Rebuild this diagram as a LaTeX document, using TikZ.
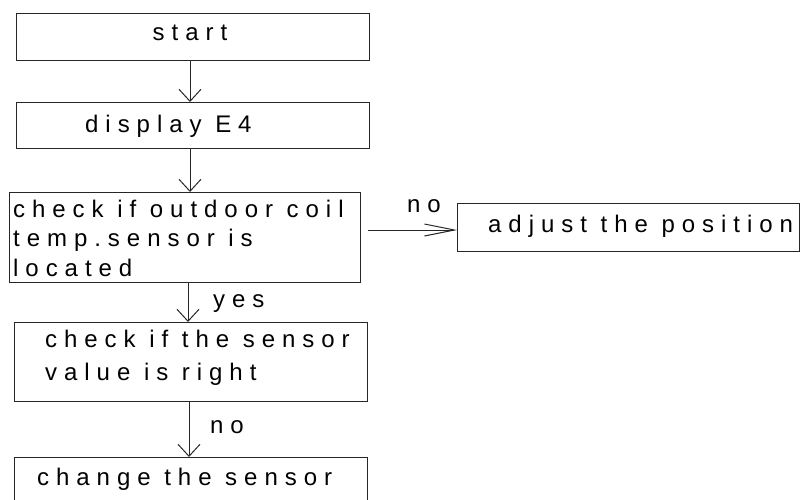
\documentclass[tikz,border=0pt]{standalone}
\usepackage{fontspec}
\setmainfont{Liberation Sans}
\newfontfamily\lsp[LetterSpace=29]{Liberation Sans}
\usetikzlibrary{arrows.meta,calc}
\tikzset{
  box/.style={draw=black!85, line width=1pt, rectangle, inner sep=0pt, anchor=north west},
  txt/.style={font=\lsp\fontsize{24}{28}\selectfont, inner sep=0pt, anchor=base west, text=black},
  varr/.style={draw=black!85, line width=1pt, -{Straight Barb[length=12pt,width=22pt,line width=1pt]}},
  harr/.style={draw=black!85, line width=1pt, -{Straight Barb[length=30pt,width=12pt,line width=1pt]}}
}
\begin{document}
\begin{tikzpicture}[x=1pt,y=-1pt]
\useasboundingbox (0,0) rectangle (801,499);
\clip (0,0) rectangle (801,499);
% boxes
\node[box, minimum width=353pt, minimum height=47pt] (start) at (16,13) {};
\node[box, minimum width=353pt, minimum height=46pt] (display) at (16,102) {};
\node[box, minimum width=351pt, minimum height=90pt] (check) at (9,192) {};
\node[box, minimum width=342pt, minimum height=48pt] (adjust) at (457,203) {};
\node[box, minimum width=353pt, minimum height=79pt] (value) at (14,322) {};
\node[box, minimum width=353pt, minimum height=60pt] (change) at (14,457) {};
% texts
\node[txt, anchor=base] (tstart) at (190,40) {start};
\node[txt] (tdisplay) at (85,132) {display E4};
\node[txt] (tcheck1) at (13,217) {check if outdoor coil};
\node[txt] (tcheck2) at (13,246) {temp.sensor is};
\node[txt] (tcheck3) at (13,276) {located};
\node[txt] (tadjust) at (488,232) {adjust the position};
\node[txt] (tvalue1) at (45,347) {check if the sensor};
\node[txt] (tvalue2) at (45,380) {value is right};
\node[txt] (tchange) at (37,485) {change the sensor};
\node[txt] (lno1) at (407,212) {no};
\node[txt] (lyes) at (213,307) {yes};
\node[txt] (lno2) at (210,433) {no};
% connectors
\draw[varr] (start.south -| 190,0) -- (display.north -| 190,0);
\draw[varr] (display.south -| 190,0) -- (check.north -| 190,0);
\draw[varr] (check.south -| 188,0) -- (value.north -| 188,0);
\draw[varr] (value.south -| 189,0) -- (change.north -| 189,0);
\draw[harr] ($(check.east |- 0,230)+(7,0)$) -- (adjust.west |- 0,230);
\end{tikzpicture}
\end{document}
